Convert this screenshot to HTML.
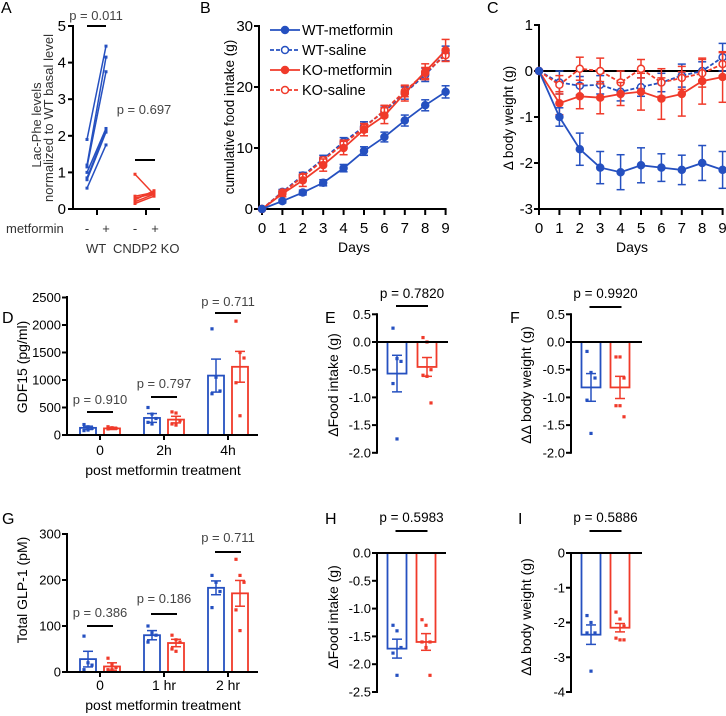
<!DOCTYPE html>
<html><head><meta charset="utf-8"><style>
html,body{margin:0;padding:0;background:#fff}
svg{display:block;font-family:"Liberation Sans",Arial,sans-serif}
</style></head><body>
<svg id="fig" width="726" height="716" viewBox="0 0 726 716" xmlns="http://www.w3.org/2000/svg"></svg>
<script>
const BLUE='#2550c0', RED='#f03a2a';
// ---- Panel A data ----
const aWtBefore=[0.57,0.8,0.85,1.15,1.2,1.9,1.0];
const aWtAfter=[1.75,2.1,2.15,3.75,4.15,4.45,2.2];
const aKoBefore=[0.95,0.35,0.25,0.2,0.15,0.3];
const aKoAfter=[0.4,0.45,0.5,0.4,0.35,0.42];
const aTicks=[0,1,2,3,4,5];
// ---- Panel B data ----
const days=[0,1,2,3,4,5,6,7,8,9];
const bWtMet=[0,1.3,2.7,4.3,6.7,9.5,11.8,14.5,17,19.2];
const bWtMetErr=[0,0.3,0.4,0.5,0.6,0.7,0.8,0.9,0.9,1.0];
const bWtSal=[0,2.8,5.5,8.2,11,13.5,16,19,22,25.5];
const bWtSalErr=[0,0.4,0.5,0.6,0.7,0.8,0.9,1.0,1.1,1.2];
const bKoMet=[0,2.5,4.7,7.2,10,13,15.3,19,22.5,26];
const bKoMetErr=[0,0.5,1.0,1.0,1.1,1.0,1.3,1.3,1.3,1.8];
const bKoSal=[0,2.7,5.3,8,10.7,13.3,16.2,19.3,22.3,25.2];
const bKoSalErr=[0,0.3,0.4,0.5,0.6,0.7,0.8,0.9,0.9,1.0];
const bTicks=[0,10,20,30];
// ---- Panel C data ----
const cWtMet=[0,-1.0,-1.7,-2.1,-2.2,-2.05,-2.1,-2.15,-2.0,-2.15];
const cWtMetErr=[0,0.2,0.35,0.35,0.38,0.38,0.3,0.32,0.38,0.4];
const cWtSal=[0,-0.25,-0.32,-0.3,-0.45,-0.35,-0.25,-0.1,0,0.3];
const cWtSalErr=[0,0.25,0.2,0.2,0.2,0.2,0.2,0.25,0.2,0.3];
const cKoMet=[0,-0.7,-0.55,-0.58,-0.5,-0.45,-0.6,-0.5,-0.22,-0.13];
const cKoMetErr=[0,0.25,0.27,0.35,0.25,0.4,0.45,0.48,0.5,0.55];
const cKoSal=[0,-0.3,0.05,0,-0.25,0.05,-0.25,-0.15,-0.05,0.15];
const cKoSalErr=[0,0.2,0.25,0.28,0.25,0.2,0.3,0.25,0.3,0.25];
const cTicks=[1,0,-1,-2,-3];
// ---- Panel D data ----
const dGroups=['0','2h','4h'];
const dWt=[130,310,1080];
const dWtErr=[30,80,300];
const dKo=[120,280,1240];
const dKoErr=[20,60,280];
const dWtPts=[[190,150,120,80,90],[500,380,300,230,200],[1930,1050,800,750]];
const dKoPts=[[150,130,120,110,130],[420,400,260,200,180],[2070,1500,1400,950,350]];
const dP=['p = 0.910','p = 0.797','p = 0.711'];
const dTicks=[0,500,1000,1500,2000,2500];
// ---- Panel G data ----
const gGroups=['0','1 hr','2 hr'];
const gWt=[28,80,183];
const gWtErr=[17,10,15];
const gKo=[12,63,171];
const gKoErr=[8,8,28];
const gWtPts=[[78,20,15,5],[100,85,80,65],[210,195,175,140]];
const gKoPts=[[30,15,10,5,5],[80,70,65,50,45],[245,210,195,135,90]];
const gP=['p = 0.386','p = 0.186','p = 0.711'];
const gTicks=[0,100,200,300];
// ---- Panels E F H I data ----
const eMeans=[-0.57,-0.45]; const eErr=[0.33,0.17];
const ePts=[[0.25,-0.3,-0.35,-0.75,-1.75],[0.08,0,-0.5,-0.6,-0.62,-1.1]];
const eTicks=[0.5,0,-0.5,-1,-1.5,-2];
const fMeans=[-0.82,-0.82]; const fErr=[0.25,0.2];
const fPts=[[-0.17,-0.55,-0.65,-1.05,-1.65],[-0.27,-0.27,-0.65,-1.15,-1.15,-1.35]];
const hMeans=[-1.72,-1.6]; const hErr=[0.17,0.15];
const hPts=[[-1.3,-1.4,-1.7,-1.8,-2.2],[-1.2,-1.3,-1.6,-1.6,-1.7,-2.2]];
const hTicks=[0,-0.5,-1,-1.5,-2,-2.5];
const iMeans=[-2.35,-2.15]; const iErr=[0.28,0.12];
const iPts=[[-1.8,-2.0,-2.3,-2.3,-3.4],[-1.7,-1.9,-2.1,-2.45,-2.5,-2.5]];
const iTicks=[0,-1,-2,-3,-4];

const svg=document.getElementById('fig');
const NS='http://www.w3.org/2000/svg';
function mk(tag,attrs,parent){const e=document.createElementNS(NS,tag);for(const k in attrs)e.setAttribute(k,attrs[k]);(parent||svg).appendChild(e);return e;}
function grp(){const g=mk('g',{});return g;}
function line(p,x1,y1,x2,y2,c,w,dash){const e=mk('line',{x1,y1,x2,y2,stroke:c||'#000','stroke-width':w||1.5},p);if(dash)e.setAttribute('stroke-dasharray',dash);return e;}
function text(p,x,y,s,size,anchor,color,rot,weight){const e=mk('text',{x,y,'font-size':size||12,'text-anchor':anchor||'start',fill:color||'#000'},p);if(rot)e.setAttribute('transform','rotate(-90 '+x+' '+y+')');if(weight)e.setAttribute('font-weight',weight);e.textContent=s;return e;}
function fmtT(v,dec){return dec?(v.toFixed(dec)):String(v);}

// Panel letters
[['A',1,13],['B',200,13],['C',487,13],['D',2,323],['E',325,323],['F',510,323],['G',2,524],['H',325,524],['I',518,524]].forEach(l=>{
 const e=text(svg,l[1],l[2],l[0],16,'start','#000');
 
 
});

// ===== Panel A =====
(function(){
 const g=grp();
 
 
 const y=v=>209-v*36.6, X=73;
 line(g,X,y(5)-1,X,210,'#000',2);
 line(g,X,209,160,209,'#000',2);
 aTicks.forEach(t=>{line(g,X-5,y(t),X,y(t),'#000',2);const tl=text(g,X-7,y(t)+5,String(t),15,'end');
 
 });
 line(g,97,209,97,215,'#000',2);line(g,146,209,146,215,'#000',2);
 const yl=text(g,41,125,'Lac-Phe levels',13,'middle','#333',true);
 
 
 const yl2=text(g,53,118,'normalized to WT basal level',13,'middle','#333',true);
 yl2.setAttribute('textLength','168');
 text(g,6,233,'metformin',13,'start','#333');
 [[87,'-'],[106,'+'],[135,'-'],[155,'+']].forEach(s=>text(g,s[0],233,s[1],13,'middle','#333'));
 text(g,86,253,'WT',13,'start','#333');
 text(g,113,253,'CNDP2 KO',13,'start','#333');
 aWtBefore.forEach((b,i)=>{const l=line(g,87,y(b),106,y(aWtAfter[i]),BLUE,1.5);
  
  
  mk('rect',{x:85.5,y:y(b)-1.5,width:3,height:3,fill:BLUE},g);mk('rect',{x:104.5,y:y(aWtAfter[i])-1.5,width:3,height:3,fill:BLUE},g);});
 aKoBefore.forEach((b,i)=>{const l=line(g,135,y(b),154,y(aKoAfter[i]),RED,1.5);
  
  
  mk('rect',{x:133.5,y:y(b)-1.5,width:3,height:3,fill:RED},g);mk('rect',{x:152.5,y:y(aKoAfter[i])-1.5,width:3,height:3,fill:RED},g);});
 text(g,96,20,'p = 0.011',13,'middle','#444');line(g,87,26,106,26,'#000',2);
 text(g,144,114,'p = 0.697',13,'middle','#444');line(g,135,160,155,160,'#000',2);
})();

// ===== line chart helper =====
function series(g,xf,yf,vals,errs,color,filled,dashed,name){
 const s=mk('g',{},g);
 
 
 let d='';vals.forEach((v,i)=>{d+=(i?'L':'M')+xf(days[i])+' '+yf(v);});
 const p=mk('path',{d,fill:'none',stroke:color,'stroke-width':1.8},s);
 if(dashed)p.setAttribute('stroke-dasharray','4 2');
 vals.forEach((v,i)=>{const x=xf(days[i]);if(errs[i]>0){line(s,x,yf(v+errs[i]),x,yf(v-errs[i]),color,1.5);line(s,x-4,yf(v+errs[i]),x+4,yf(v+errs[i]),color,1.5);line(s,x-4,yf(v-errs[i]),x+4,yf(v-errs[i]),color,1.5);}
  mk('circle',{cx:x,cy:yf(v),r:3.5,fill:filled?color:'#fff',stroke:color,'stroke-width':1.5},s);});
}

// ===== Panel B =====
(function(){
 const g=grp();
 
 
 const x=d=>262+d*20.4, y=v=>209-v*6.1;
 line(g,259,y(30)-1,259,210,'#000',2);line(g,259,209,x(9)+1,209,'#000',2);
 bTicks.forEach(t=>{line(g,254,y(t),259,y(t),'#000',2);text(g,253,y(t)+5,String(t),15,'end');});
 days.forEach(d=>{line(g,x(d),209,x(d),215,'#000',2);text(g,x(d),233,String(d),15,'middle');});
 const xt=text(g,354,252,'Days',14,'middle');
 
 
 text(g,234,117,'cumulative food intake (g)',13.5,'middle','#000',true);
 series(g,x,y,bWtSal,bWtSalErr,BLUE,false,true,'b-wt-saline');
 series(g,x,y,bKoSal,bKoSalErr,RED,false,true,'b-ko-saline');
 series(g,x,y,bKoMet,bKoMetErr,RED,true,false,'b-ko-metformin');
 series(g,x,y,bWtMet,bWtMetErr,BLUE,true,false,'b-wt-metformin');
 [['WT-metformin',BLUE,true,false,30],['WT-saline',BLUE,false,true,50],['KO-metformin',RED,true,false,70],['KO-saline',RED,false,true,90]].forEach(l=>{
  const lg=mk('g',{},g);
  
  
  const ln=line(lg,270,l[4],300,l[4],l[1],1.8);if(l[3])ln.setAttribute('stroke-dasharray','4 2');
  mk('circle',{cx:285,cy:l[4],r:3.5,fill:l[2]?l[1]:'#fff',stroke:l[1],'stroke-width':1.5},lg);
  text(lg,302,l[4]+5,l[0],14.5,'start');
 });
})();

// ===== Panel C =====
(function(){
 const g=grp();
 
 
 const x=d=>539+d*20.4, y=v=>71-v*46;
 line(g,539,y(1)-1,539,210,'#000',2);line(g,539,209,x(9)+1,209,'#000',2);
 line(g,539,y(0),726,y(0),'#000',2);
 cTicks.forEach(t=>{line(g,534,y(t),539,y(t),'#000',2);text(g,533,y(t)+5,String(t),15,'end');});
 days.forEach(d=>{line(g,x(d),209,x(d),215,'#000',2);text(g,x(d),233,String(d),15,'middle');});
 text(g,632,252,'Days',14,'middle');
 text(g,513,118,'\u0394 body weight (g)',13.5,'middle','#000',true);
 series(g,x,y,cWtSal,cWtSalErr,BLUE,false,true,'c-wt-saline');
 series(g,x,y,cKoSal,cKoSalErr,RED,false,true,'c-ko-saline');
 series(g,x,y,cKoMet,cKoMetErr,RED,true,false,'c-ko-metformin');
 series(g,x,y,cWtMet,cWtMetErr,BLUE,true,false,'c-wt-metformin');
})();

// ===== bar helpers =====
function bar(g,cx,w,y0,yv,color,name){const r=mk('rect',{x:cx-w/2,y:Math.min(y0,yv),width:w,height:Math.abs(yv-y0),fill:'none',stroke:color,'stroke-width':1.8},g);
 
 }
function errb(g,cx,yf,m,e,color){line(g,cx,yf(m+e),cx,yf(m-e),color,1.5);line(g,cx-5,yf(m+e),cx+5,yf(m+e),color,1.5);line(g,cx-5,yf(m-e),cx+5,yf(m-e),color,1.5);}
function dots(g,cx,yf,pts,color){pts.forEach((v,i)=>{const off=((i%3)-1)*4;mk('rect',{x:cx+off-1.6,y:yf(v)-1.6,width:3.2,height:3.2,fill:color},g);});}

function groupedPanel(name,yf,ticks,groups,wt,wtE,ko,koE,wtP,koP,pl,pY,barY,ytitle,ytY,labY,axisTop){
 const g=grp();
 
 
 const X=67,y0=yf(0);
 groups.forEach((lab,i)=>{const gx=100+64*i;
  bar(g,gx-12,16,y0,yf(wt[i]),BLUE,'bar-wt-'+lab);
  bar(g,gx+12,16,y0,yf(ko[i]),RED,'bar-ko-'+lab);
  errb(g,gx-12,yf,wt[i],wtE[i],BLUE);errb(g,gx+12,yf,ko[i],koE[i],RED);
  dots(g,gx-12,yf,wtP[i],BLUE);dots(g,gx+12,yf,koP[i],RED);
  line(g,gx,y0,gx,y0+5,'#000',2);
  text(g,gx,labY,lab,14,'middle');
  text(g,gx,pY[i],pl[i],13,'middle','#444');
  line(g,gx-13,barY[i],gx+13,barY[i],'#000',2);
 });
 line(g,X,axisTop-1,X,y0+1,'#000',2);line(g,X,y0,258,y0,'#000',2);
 ticks.forEach(t=>{line(g,X-5,yf(t),X,yf(t),'#000',2);text(g,X-6,yf(t)+4.5,String(t),13,'end');});
 text(g,163,labY+20,'post metformin treatment',14,'middle');
 text(g,27,ytY,ytitle,14,'middle','#000',true);
}
groupedPanel('panel-d',v=>435-v*0.055,dTicks,dGroups,dWt,dWtErr,dKo,dKoErr,dWtPts,dKoPts,dP,[404,388,306],[412,397,313],'GDF15 (pg/ml)',367,455,297);
groupedPanel('panel-g',v=>672-v*0.46,gTicks,gGroups,gWt,gWtErr,gKo,gKoErr,gWtPts,gKoPts,gP,[617,603,542],[626,614,552],'Total GLP-1 (pM)',590,690,534);

function pairPanel(name,X,bx,yf,ticks,dec,means,errs,pts,ptext,pTextY,pBarY,ytitle,ytX,ytY,top,zeroEnd){
 const g=grp();
 
 
 const y0=yf(0);
 [BLUE,RED].forEach((c,i)=>{bar(g,bx[i],19,y0,yf(means[i]),c,i?'bar-ko':'bar-wt');errb(g,bx[i],yf,means[i],errs[i],c);dots(g,bx[i],yf,pts[i],c);});
 line(g,X,top-1,X,yf(ticks[ticks.length-1])+1,'#000',2);
 line(g,X,y0,zeroEnd,y0,'#000',2);
 ticks.forEach(t=>{line(g,X-5,yf(t),X,yf(t),'#000',2);text(g,X-6,yf(t)+4.5,fmtT(t,dec),13,'end');});
 const mid=(bx[0]+bx[1])/2;
 text(g,mid,pTextY,ptext,13.5,'middle','#000');
 line(g,mid-16,pBarY,mid+16,pBarY,'#000',2);
 text(g,ytX,ytY,ytitle,14,'middle','#000',true);
}
const yE=v=>342-v*55.4, yH=v=>553-v*55.6, yI=v=>553-v*34.75;
pairPanel('panel-e',377,[397,427],yE,eTicks,1,eMeans,eErr,ePts,'p = 0.7820',298,306,'\u0394Food intake (g)',338,385,yE(0.5),448);
pairPanel('panel-f',571,[591,620],yE,eTicks,1,fMeans,fErr,fPts,'p = 0.9920',298,307,'\u0394\u0394 body weight (g)',531,385,yE(0.5),642);
pairPanel('panel-h',377,[397,426],yH,hTicks,1,hMeans,hErr,hPts,'p = 0.5983',522,531,'\u0394Food intake (g)',338,617,yH(0),446);
pairPanel('panel-i',571,[591,620],yI,iTicks,0,iMeans,iErr,iPts,'p = 0.5886',522,531,'\u0394\u0394 body weight (g)',531,617,yI(0),642);
</script>
</body></html>
